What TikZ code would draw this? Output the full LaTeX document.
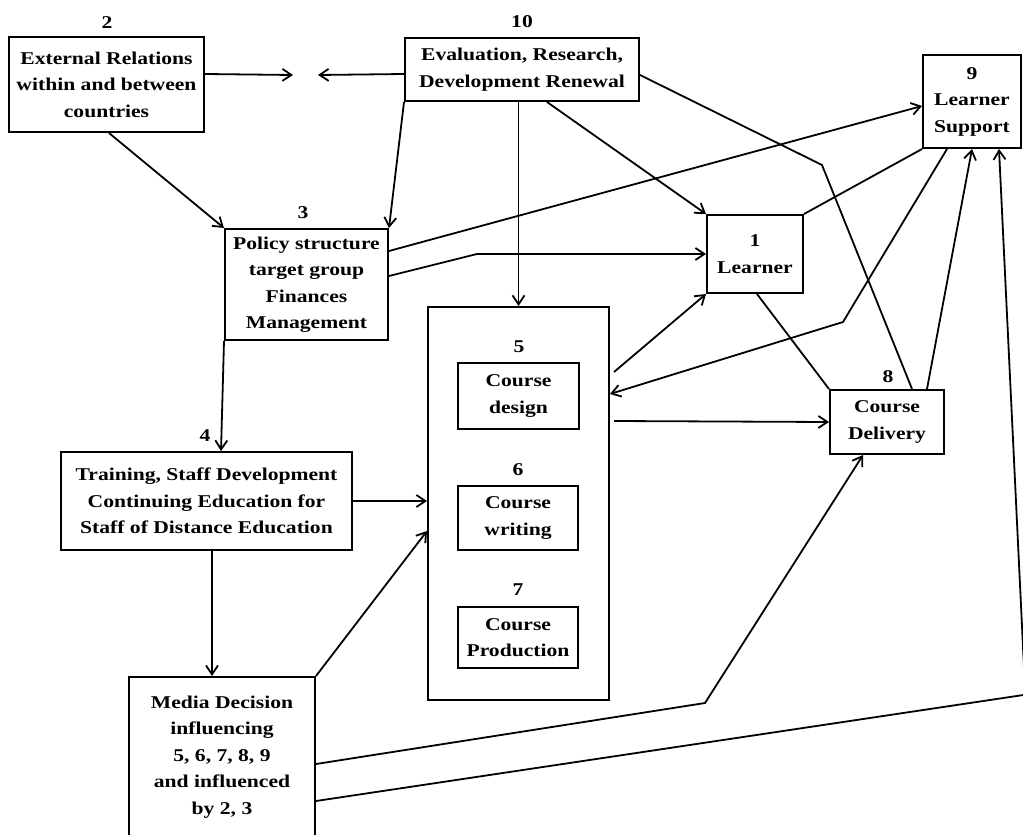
\documentclass[tikz,border=0pt]{standalone}
\usepackage{fontspec}
\setmainfont{Liberation Serif}[FakeStretch=1.2]
\usetikzlibrary{arrows.meta,calc}

\begin{document}
\begin{tikzpicture}[x=1pt,y=-1pt,
  every node/.style={font=\fontsize{18}{26.5}\selectfont\bfseries},
  box/.style={draw,line width=2pt,align=center,inner sep=0pt},
  num/.style={inner sep=0pt},
  link/.style={line width=1.8pt},
  arr/.style={link,-{Straight Barb[length=9pt,width=12pt]}}]

\useasboundingbox (0,0) rectangle (1023,835);
\fill[white] (0,0) rectangle (1023,835);
\clip (0,0) rectangle (1023,835);

% ---- boxes ----
\node[box,minimum width=195pt,minimum height=95pt] (b2) at (106.5,84.5)
  {External Relations\\within and between\\countries};
\node[box,minimum width=234pt,minimum height=63pt] (b10) at (522,69.5)
  {Evaluation, Research,\\Development Renewal};
\node[box,minimum width=98pt,minimum height=93pt] (b9) at (972,101.5)
  {9\\Learner\\Support};
\node[box,minimum width=163pt,minimum height=111pt] (b3) at (306.5,284.5)
  {Policy structure\\target group\\Finances\\Management};
\node[box,minimum width=96pt,minimum height=78pt] (b1) at (755,254)
  {1\\Learner};
\node[box,minimum width=181pt,minimum height=393pt] (course) at (518.5,503.5) {};
\node[box,minimum width=121pt,minimum height=66pt] (b5) at (518.5,396)
  {Course\\design};
\node[box,minimum width=120pt,minimum height=64pt] (b6) at (518,518)
  {Course\\writing};
\node[box,minimum width=120pt,minimum height=61pt] (b7) at (518,637.5)
  {Course\\Production};
\node[box,minimum width=114pt,minimum height=64pt] (b8) at (887,422)
  {Course\\Delivery};
\node[box,minimum width=291pt,minimum height=98pt] (b4) at (206.5,501)
  {Training, Staff Development\\Continuing Education for\\Staff of Distance Education};
\node[box,minimum width=186pt,minimum height=200pt] (media) at (222,777) {};
\node[align=center,inner sep=0pt] (mediatext) at (222,757)
  {Media Decision\\influencing\\5, 6, 7, 8, 9\\and influenced\\by 2, 3};

% ---- numbers above boxes ----
\node[num] (n2) at (107,23) {2};
\node[num] (n10) at (522,22) {10};
\node[num] (n3) at (303,213) {3};
\node[num] (n5) at (519,347) {5};
\node[num] (n6) at (518,470) {6};
\node[num] (n7) at (518,590) {7};
\node[num] (n4) at (205,436) {4};
\node[num] (n8) at (888,377) {8};

% ---- bend points and free ends ----
\coordinate (m1) at (293,75);
\coordinate (m2) at (318,75);
\coordinate (k1) at (822,165);
\coordinate (k2) at (477,254);
\coordinate (k3) at (843,322);
\coordinate (k4) at (705,703);
\coordinate (k5) at (1025.3,694.7);

% ---- connectors ----
\draw[arr] ($(b2.north east)+(0,38)$) -- (m1);
\draw[arr] ($(b10.north west)+(0,37)$) -- (m2);
\draw[arr] ($(b2.south west)+(101,0)$) -- (b3.north west);
\draw[arr] (b10.south west) -- (b3.north east);
\draw[arr] (course.north |- b10.south) -- (course.north);
\draw[arr] ($(b10.south west)+(143,0)$) -- (b1.north west);
\draw[link] ($(b10.north east)+(0,38)$) -- (k1) -- ($(b8.north west)+(83,0)$);
\draw[arr] ($(b3.north east)+(0,23)$) -- ($(b9.north west)+(0,52)$);
\draw[arr] ($(b3.north east)+(0,48)$) -- (k2) -- (b1.west);
\draw[link] (b1.north east) -- (b9.south west);
\draw[arr] ($(b9.south west)+(25,0)$) -- (k3) -- ($(course.north east)+(0,88)$);
\draw[arr] ($(course.north east)+(4,66)$) -- (b1.south west);
\draw[arr] ($(course.north east)+(4,115)$) -- (b8.west);
\draw[link] ($(b1.south west)+(51,0)$) -- (b8.north west);
\draw[arr] ($(b8.north west)+(98,0)$) -- (b9.south);
\draw[arr] (b3.south west) -- ($(b4.north west)+(161,0)$);
\draw[arr] (b4.east) -- (b4.east -| course.west);
\draw[arr] ($(b4.south west)+(152,0)$) -- ($(media.north west)+(84,0)$);
\draw[arr] (media.north east) -- ($(course.north west)+(0,225)$);
\draw[arr] ($(media.north east)+(0,88)$) -- (k4) -- ($(b8.south west)+(34,0)$);
\draw[arr] ($(media.north east)+(0,125)$) -- (k5) -- ($(b9.south west)+(77,0)$);
\end{tikzpicture}
\end{document}
